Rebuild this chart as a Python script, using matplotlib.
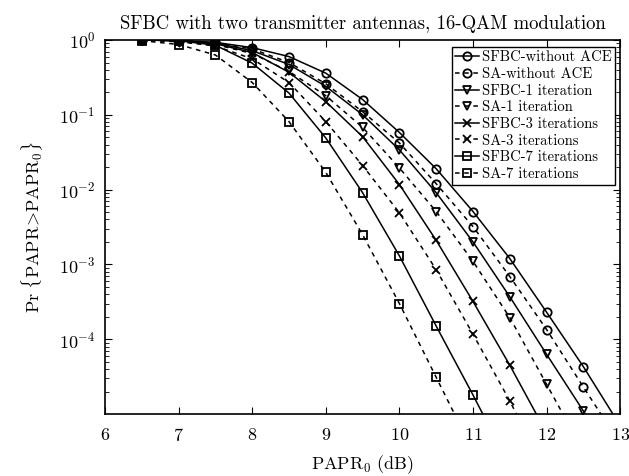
"""
SFBC 两发射天线 16-QAM 下 PAPR 的 CCDF 曲线
"""
import matplotlib
matplotlib.use('Agg')
import matplotlib.pyplot as plt
import numpy as np

# 类 LaTeX 字体
plt.rcParams['font.family'] = ['cmr10', 'DejaVu Serif']
plt.rcParams['mathtext.fontset'] = 'cm'
plt.rcParams['axes.unicode_minus'] = False
plt.rcParams['axes.formatter.use_mathtext'] = True

# PAPR0 (dB)
papr = [6.5, 7, 7.5, 8, 8.5, 9, 9.5, 10, 10.5, 11, 11.5, 12, 12.5, 13]

# Pr{PAPR > PAPR0}
sfbc_no_ace = [1.0, 0.98, 0.93, 0.79, 0.60, 0.36, 0.16, 0.058, 0.019, 0.0051, 0.0012, 2.3e-4, 4.3e-5, 7e-6]
sa_no_ace = [1.0, 0.98, 0.91, 0.76, 0.50, 0.26, 0.11, 0.042, 0.012, 0.0032, 6.9e-4, 1.35e-4, 2.3e-5, 4e-6]
sfbc_1 = [1.0, 0.98, 0.91, 0.72, 0.47, 0.24, 0.10, 0.034, 0.0091, 0.002, 3.7e-4, 6.3e-5, 1.1e-5, 1.6e-6]
sa_1 = [1.0, 0.95, 0.87, 0.66, 0.38, 0.18, 0.068, 0.0195, 0.0051, 0.0011, 1.95e-4, 2.5e-5, 3.2e-6]
sfbc_3 = [1.0, 0.98, 0.89, 0.68, 0.37, 0.15, 0.051, 0.0117, 0.0021, 3.2e-4, 4.5e-5, 5.6e-6]
sa_3 = [1.0, 0.95, 0.83, 0.56, 0.27, 0.081, 0.021, 0.0049, 8.5e-4, 1.17e-4, 1.5e-5, 1.6e-6]
sfbc_7 = [1.0, 0.98, 0.85, 0.49, 0.195, 0.049, 0.0091, 0.0013, 1.5e-4, 1.8e-5, 2e-6]
sa_7 = [0.98, 0.87, 0.63, 0.27, 0.081, 0.017, 0.0025, 3.0e-4, 3.1e-5, 3.2e-6]

series = [
    (sfbc_no_ace, 'o', '-', 'SFBC-without ACE'),
    (sa_no_ace, 'o', '--', 'SA-without ACE'),
    (sfbc_1, 'v', '-', 'SFBC-1 iteration'),
    (sa_1, 'v', '--', 'SA-1 iteration'),
    (sfbc_3, 'x', '-', 'SFBC-3 iterations'),
    (sa_3, 'x', '--', 'SA-3 iterations'),
    (sfbc_7, 's', '-', 'SFBC-7 iterations'),
    (sa_7, 's', '--', 'SA-7 iterations'),
]

fig = plt.figure(figsize=(6.29, 4.76), dpi=100)
ax = fig.add_axes([0.167, 0.130, 0.819, 0.786])

for vals, mk, ls, label in series:
    line, = ax.semilogy(papr[:len(vals)], vals, linestyle=ls, marker=mk, color='k',
                        linewidth=1.1, markersize=6, markerfacecolor='none',
                        markeredgewidth=1.3, label=label)
    if ls == '--':
        line.set_dashes((3, 3))

ax.set_xlim(6, 13)
ax.set_ylim(1e-5, 1)
ax.set_xticks(range(6, 14))
ax.set_yticks([1e-4, 1e-3, 1e-2, 1e-1, 1e0])
ax.tick_params(which='both', direction='in', top=True, right=True, labelsize=13)
ax.tick_params(which='major', length=5)
ax.tick_params(which='minor', length=3)
ax.tick_params(axis='x', which='major', pad=9)
ax.tick_params(axis='y', which='major', pad=7)
for s in ax.spines.values():
    s.set_linewidth(1.2)

ax.set_title('SFBC with two transmitter antennas, 16-QAM modulation', fontsize=13.5, pad=8)
ax.set_xlabel(r'$\mathrm{PAPR}_0$ (dB)', fontsize=13, labelpad=7)
ax.set_ylabel(r'$\mathrm{Pr}\ \{\mathrm{PAPR}\!>\!\mathrm{PAPR}_0\}$', fontsize=13, labelpad=10)

leg = ax.legend(loc='upper right', bbox_to_anchor=(0.993, 0.985), fontsize=10.5,
                fancybox=False, edgecolor='k', framealpha=1, labelspacing=0.2,
                handlelength=1.6, handletextpad=0.2, borderpad=0.25,
                borderaxespad=0.1)
leg.get_frame().set_linewidth(1.0)

plt.savefig('out.png', dpi=100)
plt.close()
